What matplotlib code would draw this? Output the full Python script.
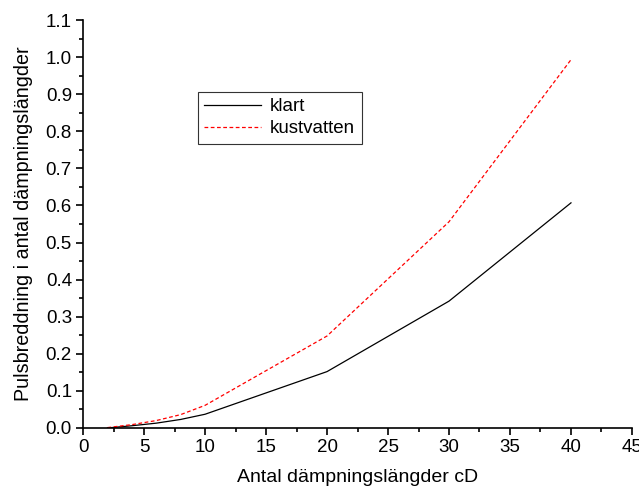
import numpy as np
import matplotlib.pyplot as plt
from matplotlib.ticker import MultipleLocator

plt.rcParams['font.family'] = ['Liberation Sans', 'DejaVu Sans']

# Pulse broadening vs. number of attenuation lengths
cD = [2, 4, 6, 8, 10, 20, 30, 40]
klart = [0.0, 0.006, 0.013, 0.023, 0.037, 0.152, 0.342, 0.607]
kustvatten = [0.001, 0.009, 0.020, 0.036, 0.061, 0.248, 0.556, 0.993]

fig = plt.figure(figsize=(6.39, 4.88), dpi=100)
ax = fig.add_axes([0.130, 0.123, 0.859, 0.836])

ax.plot(cD, klart, color='black', lw=0.9, label='klart')
ax.plot(cD, kustvatten, color='red', lw=0.9, ls=(0, (3, 2)), label='kustvatten')

ax.set_xlim(0, 45)
ax.set_ylim(0, 1.1)
ax.xaxis.set_major_locator(MultipleLocator(5))
ax.xaxis.set_minor_locator(MultipleLocator(2.5))
ax.yaxis.set_major_locator(MultipleLocator(0.1))
ax.yaxis.set_minor_locator(MultipleLocator(0.05))
ax.yaxis.set_major_formatter(lambda v, p: f'{v:.1f}')

for s in ['top', 'right']:
    ax.spines[s].set_visible(False)
for s in ['left', 'bottom']:
    ax.spines[s].set_linewidth(1.2)

ax.tick_params(which='major', direction='out', length=5, width=1.2,
               labelsize=13.5, pad=3)
ax.tick_params(which='minor', direction='out', length=3, width=1.2)

ax.set_xlabel('Antal dämpningslängder cD', fontsize=14, labelpad=9)
ax.set_ylabel('Pulsbreddning i antal dämpningslängder', fontsize=14.2, labelpad=9)

leg = ax.legend(loc='upper left', bbox_to_anchor=(0.192, 0.847), fontsize=13.5,
                fancybox=False, framealpha=1, edgecolor='#333333',
                handlelength=3.0, handletextpad=0.5, borderpad=0.35,
                labelspacing=0.25)
leg.get_frame().set_linewidth(0.8)

fig.savefig('out.png', dpi=100)
